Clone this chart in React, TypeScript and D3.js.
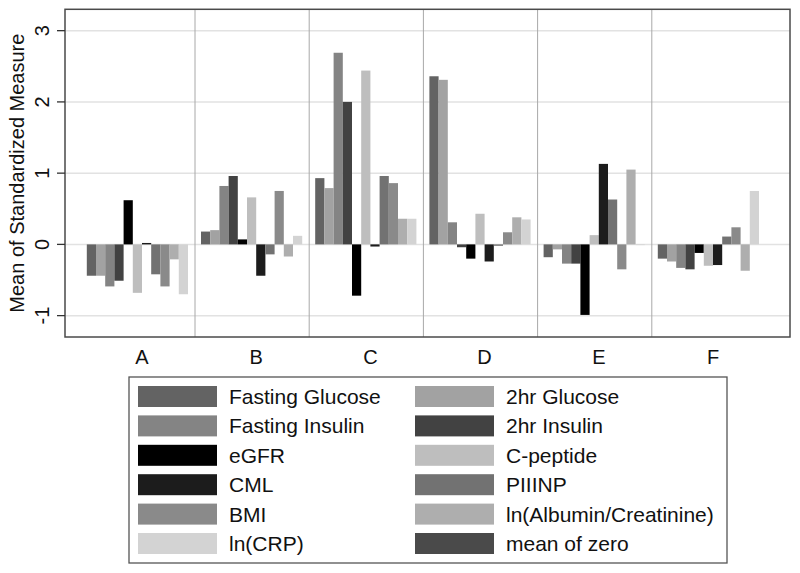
import React from "react";
import * as d3 from "d3";

const groups = ["A", "B", "C", "D", "E", "F"];
const seriesNames = [
  "Fasting Glucose", "2hr Glucose", "Fasting Insulin", "2hr Insulin", "eGFR", "C-peptide",
  "CML", "PIIINP", "BMI", "ln(Albumin/Creatinine)", "ln(CRP)", "mean of zero",
];
const seriesColors = [
  "#636363", "#a2a2a2", "#848484", "#424242", "#000000", "#bebebe",
  "#1c1c1c", "#727272", "#8a8a8a", "#aeaeae", "#d3d3d3", "#4a4a4a",
];
// values per group, in series order
const valuesA = [-0.44, -0.44, -0.59, -0.51, 0.62, -0.68, 0.02, -0.42, -0.59, -0.21, -0.7, 0];
const valuesB = [0.18, 0.2, 0.82, 0.96, 0.07, 0.66, -0.44, -0.14, 0.75, -0.17, 0.12, 0];
const valuesC = [0.93, 0.79, 2.69, 2.0, -0.72, 2.44, -0.03, 0.96, 0.86, 0.36, 0.36, 0];
const valuesD = [2.36, 2.31, 0.31, -0.04, -0.2, 0.43, -0.24, -0.02, 0.17, 0.38, 0.35, 0];
const valuesE = [-0.18, -0.07, -0.27, -0.27, -0.99, 0.13, 1.13, 0.63, -0.35, 1.05, -0.01, 0];
const valuesF = [-0.2, -0.24, -0.33, -0.35, -0.12, -0.3, -0.29, 0.11, 0.24, -0.37, 0.75, 0];
const groupValues = [valuesA, valuesB, valuesC, valuesD, valuesE, valuesF];
const yTicks = [-1, 0, 1, 2, 3];
const yTitle = "Mean of Standardized Measure";

const W = 800, H = 573;
const plotL = 65, plotR = 790, plotT = 9.3, plotB = 337;
const FONT = "'Liberation Sans', Arial, sans-serif";

export default function App() {
  const y = d3.scaleLinear().domain([-1.3, 3.3]).range([plotB, plotT]);
  const x = d3.scalePoint<string>().domain(groups).range([142, 713]);
  const inner = d3.scaleBand<number>().domain(d3.range(seriesNames.length)).range([-55.2, 55.2]);
  const bw = inner.bandwidth();

  const legendRowY = (r: number) => 386 + r * 29.4;

  return (
    <svg width={W} height={H} style={{ position: "absolute", left: 0, top: 0, background: "#fff" }} fontFamily={FONT}>
      <rect x={0} y={0} width={W} height={H} fill="#fff" />
      {/* gridlines */}
      {yTicks.map((t) => (
        <line key={"g" + t} x1={plotL} x2={plotR} y1={y(t)} y2={y(t)} stroke="#e2e2e2" strokeWidth={1.5} />
      ))}
      {/* group dividers */}
      {groups.slice(0, -1).map((g) => (
        <line key={"d" + g} x1={(x(g) as number) + 53} x2={(x(g) as number) + 53} y1={plotT} y2={plotB} stroke="#a8a8a8" strokeWidth={1} />
      ))}
      {/* bars */}
      {groups.map((g, gi) =>
        groupValues[gi].map((v, si) => {
          const x0 = (x(g) as number) + (inner(si) as number);
          const y0 = y(Math.max(0, v));
          const h = Math.abs(y(v) - y(0));
          return <rect key={g + si} x={x0} y={y0} width={bw} height={h} fill={seriesColors[si]} />;
        })
      )}
      {/* frame */}
      <rect x={plotL} y={plotT} width={plotR - plotL} height={plotB - plotT} fill="none" stroke="#4a4a4a" strokeWidth={1.5} />
      {/* y ticks */}
      {yTicks.map((t) => (
        <g key={"t" + t}>
          <line x1={57} x2={plotL} y1={y(t)} y2={y(t)} stroke="#333" strokeWidth={1.3} />
          <text transform={`translate(49,${y(t)}) rotate(-90)`} textAnchor="middle" fontSize={20} fill="#111">
            {t}
          </text>
        </g>
      ))}
      <text transform={`translate(24,${(plotT + plotB) / 2}) rotate(-90)`} textAnchor="middle" fontSize={20} fill="#111">
        {yTitle}
      </text>
      {/* x labels */}
      {groups.map((g) => (
        <text key={"x" + g} x={x(g) as number} y={364} textAnchor="middle" fontSize={20} fill="#111">
          {g}
        </text>
      ))}
      {/* legend */}
      <rect x={129} y={377} width={598} height={186} fill="#fff" stroke="#555" strokeWidth={1.3} />
      {seriesNames.map((name, i) => {
        const col = i % 2;
        const row = Math.floor(i / 2);
        const sx = col === 0 ? 138 : 415;
        const ry = legendRowY(row);
        return (
          <g key={"l" + i}>
            <rect x={sx} y={ry} width={79} height={21} fill={seriesColors[i]} />
            <text x={sx + 91} y={ry + 18} fontSize={21} fill="#111">
              {name}
            </text>
          </g>
        );
      })}
    </svg>
  );
}
